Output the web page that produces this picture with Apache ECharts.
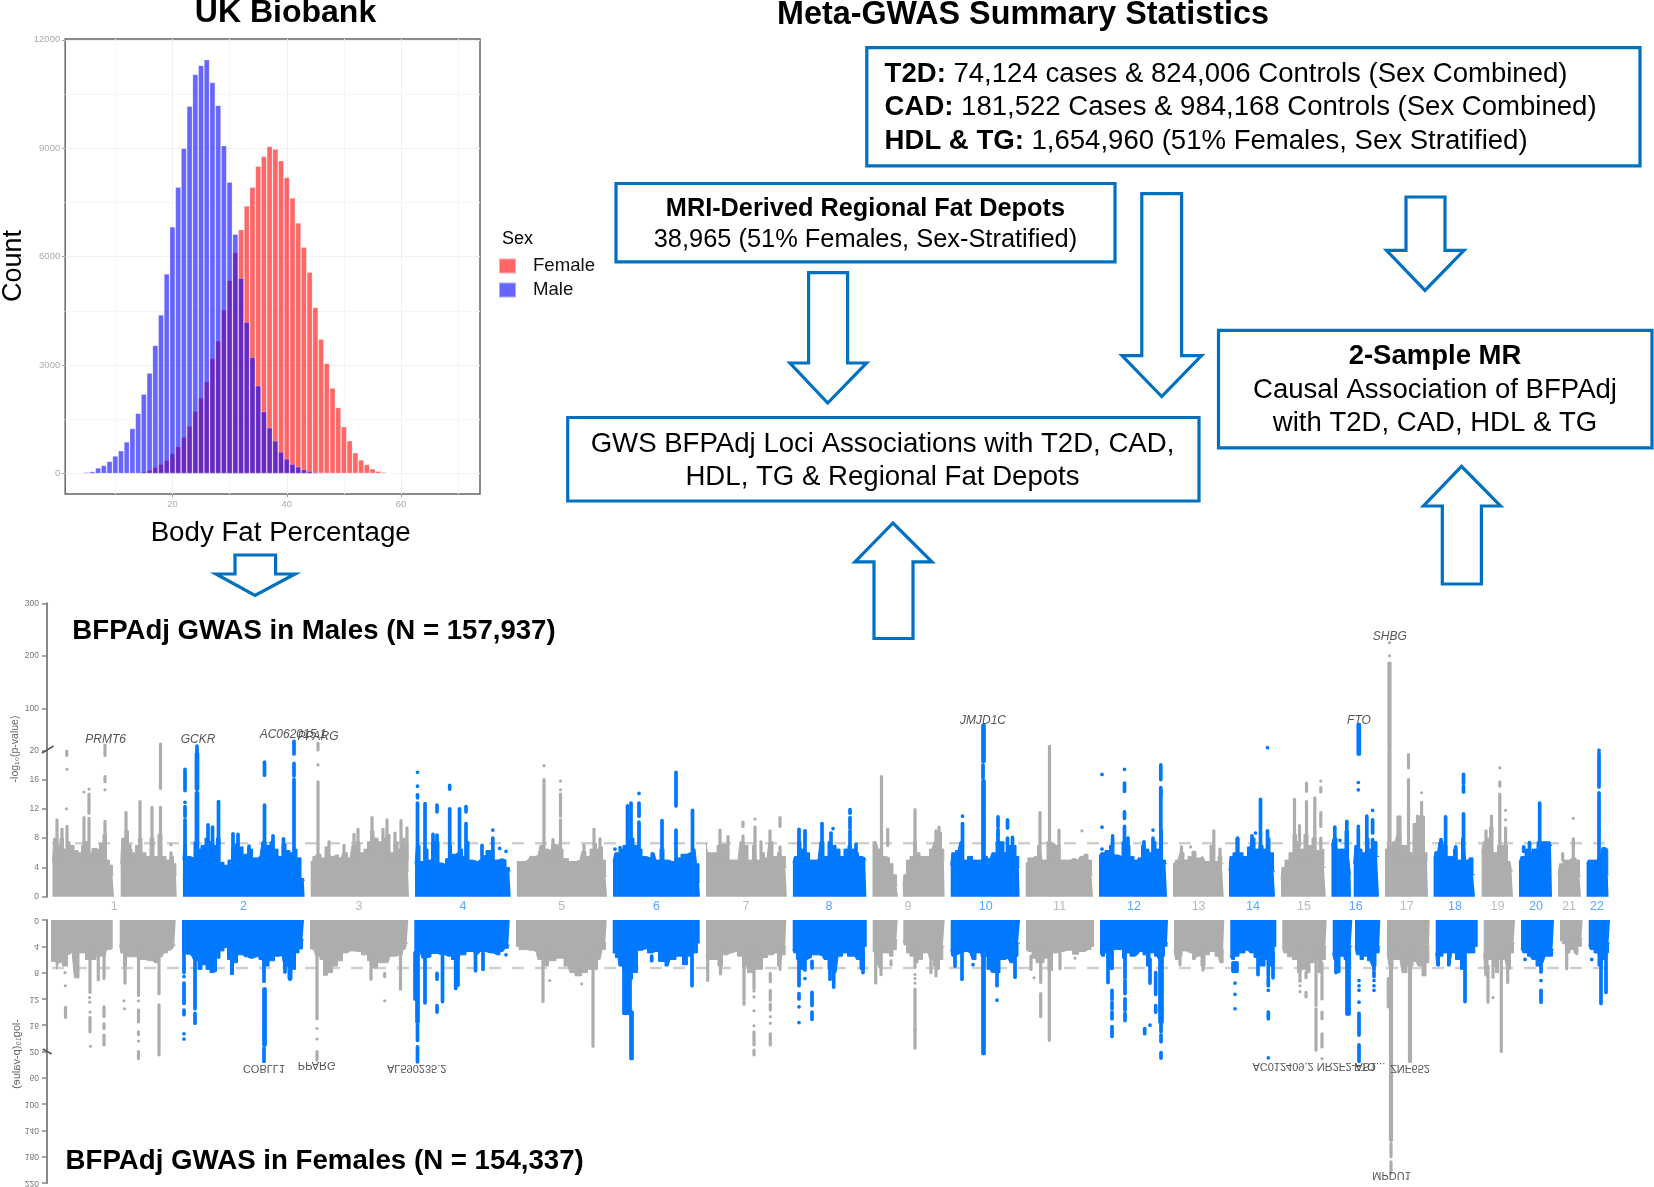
<!DOCTYPE html>
<html><head><meta charset="utf-8">
<script src="https://cdn.jsdelivr.net/npm/echarts@6/dist/echarts.min.js"></script>
<style>html,body{margin:0;padding:0;background:#fff}#c{width:1654px;height:1187px}</style>
</head><body><div id="c"></div>
<script>
// ---------- Histogram data ----------
const histBins = [5,6,7,8,9,10,11,12,13,14,15,16,17,18,19,20,21,22,23,24,25,26,27,28,29,30,31,32,33,34,35,36,37,38,39,40,41,42,43,44,45,46,47,48,49,50,51,52,53,54,55,56,57,58];
const histMale = [30,50,150,220,330,480,625,870,1240,1660,2190,2775,3540,4385,5520,6820,7920,8990,10160,11040,11290,11450,10815,10180,9070,8060,6620,5400,4185,3210,2425,1705,1260,900,590,400,255,180,105,60,30,15,0,0,0,0,0,0,0,0,0,0,0,0];
const histFemale = [0,0,0,0,0,0,0,0,5,15,50,90,170,250,360,550,740,1000,1310,1720,2090,2540,3180,3665,4520,5340,6110,6740,7400,7920,8500,8770,9045,8970,8650,8190,7620,6930,6260,5570,4590,3710,3040,2360,1820,1290,900,570,370,245,125,60,30,15];
const histXTicks = [20,40,60];
const histXMinor = [10,30,50,70];
const histYTicks = [0,3000,6000,9000,12000];
const histYMinor = [1500,4500,7500,10500];

// ---------- Manhattan shared ----------
const chromosomes = ['1','2','3','4','5','6','7','8','9','10','11','12','13','14','15','16','17','18','19','20','21','22'];
const chromosomeCenters = [114.3,243.6,359,463,561.8,656.4,746,829,908,985.7,1059.6,1134,1198.6,1253,1303.9,1355.8,1406.7,1455,1497.5,1536,1569,1597];
const maleTicks = [0,4,8,12,16,20,100,200,300];
const femaleTicks = [0,4,8,12,16,20,60,100,140,180,220];
const significanceLine = 7.3;

// solid body of each chromosome: [position, -log10 p]; null = gap in the track
const maleBody = [
 [[52.5,4.8],[55,8],[58,7],[62,8],[65,6.5],[68,7.5],[72,7],[76,6.3],[80,6],[83,7],[87,7.5],[90,6],[94,6.6],[98,6.4],[101,7.3],[105,8.5],[108,5],[111,4.3],[114,3],null,[120.7,4.4],[123,8],[127,9],[130,6.5],[134,6],[137,7],[140,8],[144,6],[148,5.5],[152,8],[156,5.5],[160,8.5],[164,5.5],[168,5],[172,5.5],[175,4.5],[176.8,3]],
 [[182.9,5],[185,7],[188,5.5],[192,5.3],[196,7.5],[199,6.5],[203,7],[207,8],[211,7.5],[215,7],[218,8],[222,4.7],[226,4.3],[230,5],[233,6.5],[237,7.2],[241,6.8],[245,5.8],[250,6.5],[255,5.3],[260,5.5],[264,7.5],[268,7],[272,7.5],[276,6.5],[280,5.5],[284,7.2],[288,6.3],[292,6],[295,6.5],[299,5.3],[303,2.5],[304.6,2.2]],
 [[310.7,4.8],[315,5.5],[319,5.8],[323,5.3],[327,6.8],[331,5.5],[336,5.7],[341,5.3],[345,6],[350,5.3],[354,7],[358,7.5],[362,6],[366,6.5],[369,7.5],[372,9],[376,8],[380,7.5],[384,8],[388,8.5],[392,6],[396,7.5],[400,6.5],[403,8],[407,7],[409,3.5]],
 [[415,4.4],[418,7],[422,4.8],[426,6.5],[430,5],[433,7.5],[437,7.5],[441,4.6],[444,4.4],[447,5.2],[450,7],[453,5.8],[458,6],[461,6.5],[464,5.5],[467,7.5],[471,5],[475,4.8],[480,5],[484,5.6],[488,6.3],[492,6.5],[496,5],[500,5.2],[504,5],[508,4],[510.7,3.5]],
 [[516.8,4.8],[522,4.8],[528,5],[532,5.5],[538,5.6],[542,7],[546,6.5],[550,6.3],[553,7.2],[557,7],[561,6.5],[565,5.2],[572,4.8],[580,5],[584,6.2],[588,5.5],[592,6.5],[595,7.3],[598,6.5],[601,6.8],[604,5],[607,2.8]],
 [[613,4.8],[617,6],[621,6.5],[625,7],[628,8],[632,8],[636,7],[640,6.5],[644,5.5],[648,5.3],[654,6],[658,5],[662,6.5],[666,5],[672,4.8],[678,5.3],[684,5.8],[690,6],[695,6.5],[698,4.5],[700,2]],
 [[706,7.3],[709,6],[714,6],[720,7],[724,7.2],[727,7],[731,5],[738,5],[742,7.5],[746,7],[750,5],[755,7],[758,5],[762,6],[767,5.3],[771,7.5],[775,5.5],[780,6],[784,5.5],[786.8,4]],
 [[792.9,4.6],[796,5.5],[799,7.5],[803,6.5],[807,6],[812,5],[818,5],[822,7.5],[826,5.5],[830,7.5],[834,7],[838,6.5],[842,5.5],[846,6.5],[850,7],[853,6.5],[857,6],[860,5.5],[864,5.3],[866.4,5]],
 [[872.5,7.5],[876,7.5],[880,6.5],[884,5.5],[888,5.3],[891,4.5],[895,3],[898,1.5],null,[902.9,1.5],[905,3],[908,5],[912,5.5],[915,7.5],[918,6],[922,5.5],[927,5.5],[932,6.5],[936,7.5],[940,8.8],[943,6.5],[944.6,5]],
 [[950.7,4.3],[953,6],[958,6.3],[962,7.5],[965,5],[970,5.5],[975,5],[980,5],[985,5.5],[990,5.2],[994,6],[998,7.5],[1002,7.5],[1006,6],[1010,7],[1014,7],[1018,5.5],[1019.6,4]],
 [[1025.7,4.6],[1030,5.3],[1035,5.5],[1040,7],[1044,5],[1050,7.5],[1054,7.3],[1058,7],[1062,5],[1068,5],[1073,5.2],[1078,5],[1082,5.5],[1086,5.8],[1090,5],[1093,3]],
 [[1099,5.5],[1103,6],[1107,6.3],[1112,7],[1116,5.7],[1120,5.5],[1124,7.5],[1128,7],[1132,5.5],[1136,5],[1140,5.3],[1143,7],[1147,6.5],[1151,6],[1154,7.5],[1158,6.5],[1161,9],[1164,5],[1167,4.5]],
 [[1173,4.6],[1178,5],[1182,6],[1186,5],[1190,5.5],[1194,6.2],[1198,5.3],[1203,5.5],[1207,4.8],[1213,7],[1216,4.8],[1220,5.5],[1223.7,4.5]],
 [[1229,3.5],[1231,5.5],[1235,6],[1237,8],[1241,6],[1245,5.5],[1250,6.8],[1253,8],[1257,6.5],[1261,7],[1265,6.5],[1268,8],[1272,6],[1275,3.5]],
 [[1281,2.2],[1283,4],[1287,5],[1291,6],[1295,8.5],[1298,7.5],[1302,6.5],[1306,8.5],[1310,7],[1314,8],[1318,6.3],[1322,6.5],[1325.8,4]],
 [[1331.4,7],[1335,8],[1339,6.5],[1343,6.5],[1347,9],[1350,5.5],[1351,3],null,[1353.7,4.5],[1356,7],[1360,6.5],[1364,6],[1367,8],[1371,6.5],[1375,7.5],[1379,5.5]],
 [[1385,6.5],[1390,7],[1395,7.5],[1399,8.5],[1403,7],[1407,7],[1411,6],[1415,10],[1419,11],[1423,11],[1426,6],[1428,5]],
 [[1433.6,5.5],[1437,5.5],[1441,7.5],[1445,7],[1449,5.5],[1452,5.5],[1455,6.5],[1459,5],[1464,8],[1467,5],[1471,5.3],[1475,3]],
 [[1481.6,6],[1485,7.5],[1488,8],[1491,9.5],[1495,6],[1500,7],[1505,7],[1510,4.8],[1513,3.5]],
 [[1519,4.6],[1523,5.5],[1527,6.5],[1530,6],[1534,6.5],[1540,7.5],[1545,7.5],[1550,7.5],[1552,7]],
 [[1558,3],[1561,4.5],[1565,5],[1570,5],[1574,5.3],[1578,5],[1581,2.8]],
 [[1586.6,4.5],[1590,5],[1595,5],[1600,5.3],[1604,6.7],[1607,6.5],[1608.5,3]]
];
// peaks above the body: [position, from, to] (or [position, value] for a lone point)
const maleSpikes = [
 [[57,5,10.5],[62,5,9.2],[67,6,9.6],[66.5,12],[67,17.4],[66.8,19.3,19.9],[84,5,10.8],[84,14.3],[89,5,10.7],[89,11.4,14],[89,14.7],[105,5,10.3],[105,14.6],[105,15.7,16.4],[105,19.3,30],[126,5,11.5],[130,5,7],[140,6,13],[152,5,12.2],[160.5,5,12.2],[160.5,14.8,19.5],[160.5,19.5,32],[171,5,6],[171,7.1]],
 [[185,5,10.5],[185,11,12.3],[185,12.9],[185,14.5,17.4],[196.5,5,14.2],[197.5,5,14.2],[196.5,14.7,19.5],[197.5,14.7,19.5],[197,19.5,28],[208,6,9.8],[212.5,6,9.5],[218.5,5,13],[233,5,8.6],[238,5,8.5],[249,5.5,6.9],[264.5,5,12.5],[264.5,16.6,18.4],[273,5,8.3],[283.5,5,7.9],[294,5,16],[294,16.5,18.2],[294,19.5,37]],
 [[318,5,15.7],[318,18],[318,20.5,33],[329,5.5,7.5],[344,6,7],[354,5,8.5],[358,6,9.2],[372,6.5,10.8],[383,7,9.2],[387,5,10.5],[395,5,8.7],[401,5,10.4],[407,5,9.4]],
 [[417.5,5,12.8],[417.5,13.5,13.9],[417.5,15.1],[417.5,17],[425,5,12.7],[433,5,8.5],[437,7,8.4],[437,11.6,12.5],[449.7,5,12],[449.7,14.7,15.2],[459.5,5,12],[466,5,10],[466,11.6,12.3],[482,5.5,7],[492.8,5,8],[492.8,9.1],[499.7,6.6],[506,6.2]],
 [[544,5,16],[544,17.9],[553,6,7.8],[560.5,5,9],[560.5,9.2,10.5],[560.5,11,14],[560.5,14.6],[560.5,15.8],[584,6,7],[594,5,9.2],[600,5,7.9]],
 [[615,6.5],[620,6.7],[627.5,5,12.4],[631,5,12.8],[639,5,10.2],[639,11,12.8],[639,14.1],[662,5,10.4],[676,5,9.1],[676,12.4,17],[692.5,5,11.8]],
 [[720,5,9.1],[728,5,8.2],[743,5,8.3],[743,9.6,10.2],[755,5,9.5],[755,10.6],[761,6,7.5],[770,5,9],[780,5,6.8],[780,9.6,10.8]],
 [[799,5,9.2],[805,5,9],[822,5,10],[831,5,8.7],[833,9.3],[850,5,9],[850,9.4,10.8],[850,11.4,11.9],[856,5,7.2]],
 [[881.5,5,16.4],[887.7,7,9.2],[915,5,11.9],[936,5,9],[939,5,9.5]],
 [[962.5,5,10],[962.5,11],[983,5,15.8],[983,16.2,18],[983,18.5,67],[984,5,15.8],[984,18.5,67],[998,5,8.6],[998,8.5,9.2],[998,9.6,10.9],[1007.5,5,8],[1007.5,9.4,10.5],[1012.5,5,8.1]],
 [[1040,5,11.5],[1049.5,5,17.8],[1049.5,18,19.8],[1049.5,20,27.6],[1059,5,9.1],[1082,9]],
 [[1102,16.7],[1102,9.5],[1102,6.5],[1112.6,5,8],[1112.6,8.3],[1124.5,5,9.6],[1124.5,10.7,11.6],[1124.5,14.4,15.5],[1124.5,17.4],[1128,5,8],[1144,5,7.5],[1153,5,8],[1153,9.1],[1160.8,5,14.5],[1160.8,13.9,14.9],[1160.8,16,18]],
 [[1181.5,5,6.8],[1190.7,6.8],[1213.8,5,9],[1220,5,6.5]],
 [[1237.5,5,8],[1252,6,8.3],[1255.5,8.7],[1260.5,5,9],[1260.5,9.2,13.3],[1267.5,5,9],[1267.5,25]],
 [[1294.5,5,10],[1294.5,10.2,13.3],[1299.5,7,9.7],[1306.5,5,13],[1306.5,14.4,15.5],[1314.8,5,9.5],[1314.8,9.6,13.5],[1320.8,6,8],[1320.8,9.6,11.5],[1320.8,14.3,14.9],[1320.8,15.8]],
 [[1334.8,5,9.5],[1346.8,5,10.3],[1340,7.7],[1358.3,5,9.2],[1358.3,9.6],[1358.3,14.6],[1358.3,15.6],[1358.3,19.5,68.7],[1359.3,19.5,68.7],[1366.8,5,11],[1372.6,5,7.8],[1372.6,8.7,10.5],[1372.6,11.8]],
 [[1389,5,19.7],[1390,5,19.7],[1389,20,186],[1390,20,186],[1389.5,200],[1389.5,225],[1398,5,10.9],[1400,5,10.9],[1408.5,5,12],[1408.5,11,16],[1408.5,17.6,19.4],[1417.5,5,11],[1421.6,5,12.9],[1421.6,14.2]],
 [[1436,5,6],[1441,5,7.8],[1445.6,5,10.9],[1455.7,5,6.8],[1463.5,5,11.3],[1463.5,14.3,15.1],[1463.5,15.5,16.7]],
 [[1486,6,9],[1491.5,6,11],[1499.8,5,14],[1499.8,15.1,15.7],[1499.8,17.6],[1505.6,5,9.4],[1505.6,10.5],[1505.6,11.8]],
 [[1523.7,6.2,6.8],[1529.5,5,7.4],[1539.7,5,12.8]],
 [[1562.7,5,5.9],[1573.3,5,7.9],[1573.3,10.7]],
 [[1599,5,9],[1599,9,14.2],[1599,15,19.6],[1599,20]]
];
const femaleBody = [
 [[51,6.3],[56,6.3],[57,7.5],[60,6.5],[65,7],[70,5.2],[74,4.8],[75,8.8],[83,5],[88,6],[93,6],[99,5.5],[105,5.5],[108,4.5],[112.7,4.3],null,[119.7,3.8],[122,5],[125,7],[128,5.6],[135,5.6],[140,6],[150,6.2],[155,6.5],[162,5.6],[165,5],[170,4.6],[173,4.3],[175.7,3.8]],
 [[182,5],[187,5.2],[192,5.5],[196,6.2],[200,7.5],[204,6.8],[208,7.5],[212,8],[215,7.8],[218,5.8],[222,4.7],[226,4.2],[229,6],[232,8.3],[235,6.5],[240,5.3],[245,5.6],[250,5.8],[256,5.6],[262,6],[266,7],[272,6.2],[277,5.5],[282,5.4],[286,7],[290,9],[294,7.5],[297,5],[301,4.4],[304,3]],
 [[310,4.3],[314,4.6],[318,5.5],[322,6],[325,8.4],[330,8],[335,7],[340,6.2],[345,5],[350,4.7],[358,4.8],[365,5.3],[370,6.2],[375,7.3],[380,6.5],[388,6.5],[392,5.5],[400,5.2],[405,4.5],[408.3,3.5]],
 [[414.3,4.8],[420,4.8],[424,5.8],[427,5.6],[435,5.1],[440,5.2],[448,5.5],[455,6],[458,6],[462,5.3],[470,4.8],[478,5.2],[482,4.8],[490,5],[497,5.3],[503,4.8],[507,4.3],[509.7,3.8]],
 [[516,4],[522,4.5],[530,4.6],[536,4.8],[540,6],[545,7],[552,6.2],[560,5.8],[568,7],[572,8],[578,8.5],[585,8],[590,7.5],[595,7.5],[600,6],[604,4.5],[606.7,3.5]],
 [[612.7,5],[618,5.7],[620,7],[625,7.5],[630,9],[635,8],[640,4.6],[645,4.4],[650,5],[655,4.8],[662,6.3],[668,7],[672,6],[680,5.5],[685,6.8],[690,5.5],[695,5],[699.7,3.5]],
 [[706,5.3],[708,6],[712,6],[716,6],[720,7],[725,5.3],[730,5],[735,4.8],[740,5.5],[745,7],[750,8],[755,7.5],[760,7.5],[765,5.7],[770,5.3],[775,5],[780,7],[784,5.3],[786.3,4]],
 [[792.7,4.5],[795,5],[798,6],[802,7.5],[806,6],[808,5.7],[815,5.3],[822,5.4],[826,6],[830,7.5],[836,8],[840,5.5],[845,5],[850,5.5],[855,5.5],[858,6],[862,7.5],[866.7,4]],
 [[872.7,4.8],[876,5],[878,6.5],[880,7.3],[884,5],[888,5],[891,5.5],[895,4.5],[897.7,3],null,[903.3,3],[905,3.8],[908,5],[912,5.5],[916,6.5],[920,6],[925,5],[928,5],[932,6],[935,7],[938,7.5],[941,6],[944.7,4]],
 [[950.7,4.5],[953,5.5],[956,5.2],[960,5],[965,4.8],[970,5],[974,6],[978,5],[984,5.5],[990,7.5],[993,8],[997,8],[1003,6],[1008,5.8],[1012,6.5],[1016,5.5],[1020,3.5]],
 [[1026,4.4],[1030,4.8],[1034,5.8],[1038,6.5],[1042,6.5],[1046,5.8],[1050,7.7],[1055,5],[1060,4.8],[1067,4.6],[1070,4.6],[1075,5.2],[1082,4.8],[1088,4.5],[1094,4]],
 [[1100,4.8],[1103,5.5],[1106,5],[1108,7],[1110,7.5],[1116.7,4.5],[1120,4.5],[1125,5.8],[1128,5],[1132,5.5],[1138,5.2],[1141,4.8],[1145,5.3],[1148,7],[1152,5],[1157,5.5],[1160,6],[1163,5.5],[1166,4],[1168,3.5]],
 [[1174,4.5],[1177,6],[1180,5.5],[1184,4.7],[1190,5],[1195,6],[1199,5.5],[1203,7],[1207,5.3],[1212,4.8],[1218,5.5],[1222,6.5],[1224.3,4.5]],
 [[1230.3,5.5],[1233,6],[1236,5.5],[1242,5],[1248,4.6],[1252,5],[1256,5.7],[1260,7],[1263,7],[1267,6],[1272,7],[1276.3,4]],
 [[1282.3,4],[1285,5],[1290,5.6],[1295,6],[1300,8],[1304,7.5],[1308,8],[1312,6.5],[1316,6],[1320,8],[1324,6],[1326.7,4]],
 [[1332.7,5],[1335,6],[1338,8],[1342,5.5],[1346,6],[1349,7],[1352.3,4],null,[1355,4],[1358,5.3],[1362,6],[1365,5.5],[1370,6.2],[1374,7],[1378,5],[1380.3,4]],
 [[1387,5],[1391,7],[1395,6],[1400,6],[1404,8],[1410,7],[1416,6.3],[1420,7],[1424,8.5],[1428,6.5],[1429.7,4]],
 [[1435.7,5],[1438,7],[1441,5.5],[1445,5],[1450,7],[1453,5],[1458,6],[1463,7.5],[1468,5],[1472,5],[1477.7,4]],
 [[1483.7,5],[1486,8.5],[1490,6],[1494,7],[1497,8],[1500,6],[1505,6],[1509,7.5],[1512,5],[1515,3.5]],
 [[1521,4.3],[1525,5],[1530,5.5],[1534,6],[1538,7],[1543,6.5],[1547,5.5],[1551,5.5],[1554,4.5]],
 [[1560,3.2],[1565,3.6],[1568,5],[1572,4.5],[1576,5],[1580,4],[1582.7,2.8]],
 [[1588.7,3.8],[1592,4.5],[1596,5],[1600,7],[1604,6],[1607,5],[1610,3.5]]
];
const femaleSpikes = [
 [[65,8],[65.3,10],[65.5,13.3,14.8],[90,5,11],[89.5,11.8],[89.7,12.5],[90,14],[90,14.8,17],[90.5,19.2],[98.3,5,9.1],[104,5,8.9],[104,13.2,14.7],[104,15.8,16.5],[104,17.5,19],[125,5,9.6],[124,12.3],[124.5,13.5],[138.5,5,11.5],[138.5,12.3],[138.5,13.7,15.5],[138.5,17,17.4],[138.5,18.4],[138.5,20,30.7],[159,5,11.2],[159,12.9,25]],
 [[184,5,8],[184,8.6],[184,9.6,12.7],[184,13.7,14.4],[184,17.3],[184,18.1],[195,5,13.5],[195,14.2,15.7],[264,5,9.3],[264,10.5,17],[264,17,19],[264,19.5,35],[265,10.5,19],[285,5,7.9],[290,5,9]],
 [[317,5,10.5],[317,10.7,15],[317,16.5],[317,18.1],[317,20,33],[371,6,9],[384.7,8.1,8.6],[384.7,12.3],[400.5,5,10.5]],
 [[415,5,12],[417,5,15.5],[418,5,15.5],[417.5,16,18.3],[417.5,19.3,35.7],[425,5,12.6],[437,8.1,9],[437,13,14],[442.5,5,12.4],[455.7,5,10.4],[458,5,9.9],[475.5,5,7.7],[483,5,7.5],[506,5.3]],
 [[543,5,12.4],[549.7,9.2],[581.7,9.7],[593,5,19.2]],
 [[624,5,14.2],[626,5,14.2],[628,5,14.2],[630,5,14.2],[631,14,30.5],[632,14,30.5],[651.7,5.5,6.2],[692,5,10]],
 [[707.7,5,9.2],[720.5,5,8.2],[744,5,12.8],[754,5,10.4],[754,10.8],[754,11.7],[754,13.8],[754,16.1],[754,17,19],[754,19.8,25],[770.3,8.1,9.4],[770.3,10.7,12.2],[770.3,12.8,13.7],[770.3,14.7],[770.3,15.7],[770.3,17.3,19],[780,5,7.5]],
 [[799,5,10],[799,11.2,12],[799,13.2],[799,15.6],[805,5,7.6],[805,8.9],[812,6.3,7.3],[812,11,13],[812,14,15.1],[830,5,9],[833.7,5,10.2],[863,5,8]],
 [[875.7,5,9.6],[881,5,8.3],[891,6.2,6.8],[915,5,7.2],[915,8.3],[915,8.9],[915,9.6],[915,10.5,16.8],[915,16.5,19.5],[931,6,8],[936,5,8.5]],
 [[955,5,7],[962,5,9],[973,5.5],[973,6.8],[983,5,23],[984,5,23],[997,5,9],[997,9.3,10],[997,12.2],[1015,5,8.7]],
 [[1031,5.5,7.5],[1034,8.8],[1040.7,5,9.5],[1040.7,11.2,14.7],[1049.3,5,18.3],[1060,5,7.4],[1075,5.8]],
 [[1108,5,9.5],[1112,10.7,12],[1112,12.5,13.5],[1112,14,15],[1112,16.2,17.7],[1125,5,8.8],[1125,9.2,11.2],[1125,12,13.7],[1125,14.2,15.3],[1144.7,16.5,17.3],[1150,16],[1150,6,9.6],[1155.7,8,11.3],[1155.7,13,14],[1160,5,15.5],[1162,5,15.5],[1161,15.2,17],[1161,17.5,18.5],[1161,21.5,30]],
 [[1180,5,6.8],[1203,5,7.6]],
 [[1233,6.5,7.8],[1235,6.5,7.8],[1237,6.5,7.8],[1235,9.6],[1235,11.3],[1235,13.5],[1258,5,8.3],[1268.3,5,8.5],[1268.3,8.9,10],[1268.3,10.7],[1268.3,14,15],[1268.3,29.6],[1273,5,8.8]],
 [[1300,5,9.3],[1300,9.2],[1300,10],[1300,10.9],[1306,8,8.8],[1306,11,11.7],[1316,5,13],[1316,13.5,19.8],[1322,6.6,12],[1322,14,15],[1322,17.3,19.3],[1322,30.7]],
 [[1336,5,8],[1347,5,14.3],[1349,5,14.3],[1359,9.2],[1359,10],[1359,10.7],[1359,12.5],[1359,14.2,17.5],[1359,19,35],[1374,5,7.5],[1374,7.9,8.6],[1374,9.2],[1374,10],[1374,10.7]],
 [[1388.3,8.9,13.2],[1390.5,5,155],[1391.5,5,155],[1391,160,180],[1391,188,205],[1409.5,5,35],[1410.5,5,35]],
 [[1465,5,12.4]],
 [[1488,7,12.5],[1493,7,8.7],[1493,11.8],[1501.3,5,20],[1507.7,5,9.5]],
 [[1525,6],[1541,5,7.7],[1541,7.9],[1541,9.2],[1541,10.7,12.5]],
 [[1566.7,3.5,7.4],[1576.7,5.1]],
 [[1591.7,6],[1601,5,12.7],[1606,5,11]]
];
const maleGenes = ['PRMT6','GCKR','AC062015.1','PPARG','JMJD1C','FTO','SHBG'];
const maleGenePos = [[105.7,41],[198,41],[293,49],[318,45],[983,76],[1359,77],[1389.8,237]];
const femaleGenes = ['COBLL1','PPARG','AL590235.2','AC012409.2','NR2F2-AS1...','FTO','ZNF652','MPDU1'];
const femaleGenePos = [[264,45],[316.7,41],[416.7,45],[1283,42],[1351,42],[1365,42],[1410,45.5],[1391.6,208]];

// ---------- broken y scales ----------
const maleScale = v => v <= 20 ? v : 20 + (v - 20) * 0.0717;
const maleUnscale = s => s <= 20 ? s : 20 + (s - 20) / 0.0717;
const femaleScale = v => v <= 20 ? v : 20 + (v - 20) * 0.1;

const GREY = '#ADADAD', BLUE = '#0078FF', BOX = '#0070C0';
const FONT = '"Liberation Sans", Arial, sans-serif';

function splitParts(flat){
  const out=[[]];
  flat.forEach(p=>{ if(p===null) out.push([]); else out[out.length-1].push(p); });
  return out;
}
function spikeSeries(data, color, gridIdx, scale, w){
  return {
    type:'custom', xAxisIndex:gridIdx, yAxisIndex:gridIdx, silent:true, clip:false, z:3,
    data:data.map(d=>d.length===2?[d[0],d[1],d[1]]:d),
    encode:{x:0,y:1},
    renderItem(params, api){
      const a=api.coord([api.value(0),scale(api.value(1))]);
      const b=api.coord([api.value(0),scale(api.value(2))]);
      const top=Math.min(a[1],b[1]), h=Math.abs(a[1]-b[1]);
      return {type:'rect',shape:{x:a[0]-w/2,y:top-w/2,width:w,height:h+w,r:w/2},style:{fill:color}};
    }
  };
}
function manhattan(body, spikes, gridIdx, scale){
  const s=[];
  chromosomes.forEach((name,i)=>{
    const color = i%2===0 ? GREY : BLUE;
    splitParts(body[i]).forEach(part=>{
      s.push({type:'line',xAxisIndex:gridIdx,yAxisIndex:gridIdx,data:part,step:'middle',symbol:'none',silent:true,z:3,
        lineStyle:{width:1,color},areaStyle:{color,opacity:1}});
    });
    s.push(spikeSeries(spikes[i],color,gridIdx,scale,i%2===0?3.2:3.7));
  });
  return s;
}
function thresholdSeries(gridIdx){
  return {type:'line',xAxisIndex:gridIdx,yAxisIndex:gridIdx,silent:true,symbol:'none',z:2,
    data:[[52,significanceLine],[1610,significanceLine]],
    lineStyle:{color:'#CFCFCF',width:2.5,type:[12,11]}};
}
function geneSeries(names, pos, gridIdx, scale, flip){
  return {type:'custom',xAxisIndex:gridIdx,yAxisIndex:gridIdx,silent:true,clip:false,z:5,
    data:pos.map((p,i)=>[p[0],p[1],i]),encode:{x:0,y:1},
    renderItem(params,api){
      const c=api.coord([api.value(0),scale(api.value(1))]);
      return {type:'text',x:c[0],y:c[1],scaleY:flip?-1:1,
        style:{text:names[api.value(2)],align:'center',verticalAlign:'middle',fill:'#555',
          font:(flip?'11':'italic 12')+'px '+FONT}};
    }};
}
function flippedTickSeries(){
  return {type:'custom',xAxisIndex:2,yAxisIndex:2,silent:true,clip:false,z:5,
    data:femaleTicks.map(v=>[47,v]),encode:{x:0,y:1},
    renderItem(params,api){
      const c=api.coord([47,femaleScale(api.value(1))]);
      return {type:'text',x:c[0]-8,y:c[1],scaleY:-1,
        style:{text:String(api.value(1)),align:'right',verticalAlign:'middle',fill:'#777',font:'8.5px '+FONT}};
    }};
}

const histMarks = {silent:true,symbol:'none',animation:false,label:{show:false},
  lineStyle:{color:'#F6F6F6',width:1,type:'solid'},
  data:[...histXMinor.map(v=>({xAxis:v})),...histYMinor.map(v=>({yAxis:v}))]};

const series = [
  {type:'line',xAxisIndex:0,yAxisIndex:0,data:[],silent:true,z:1,markLine:Object.assign({z:1},histMarks)},
  {name:'Female',type:'bar',xAxisIndex:0,yAxisIndex:0,z:3,data:histBins.map((b,i)=>[b,histFemale[i]]),
   barWidth:5.4,barGap:'-100%',itemStyle:{color:'rgba(255,0,0,0.6)',borderColor:'rgba(255,255,255,0.45)',borderWidth:0.5}},
  {name:'Male',type:'bar',xAxisIndex:0,yAxisIndex:0,z:3,data:histBins.map((b,i)=>[b,histMale[i]]),
   barWidth:5.4,barGap:'-100%',itemStyle:{color:'rgba(0,0,255,0.6)',borderColor:'rgba(255,255,255,0.45)',borderWidth:0.5}},
  thresholdSeries(1), thresholdSeries(2),
  ...manhattan(maleBody,maleSpikes,1,maleScale),
  ...manhattan(femaleBody,femaleSpikes,2,femaleScale),
  geneSeries(maleGenes,maleGenePos,1,maleScale,false),
  geneSeries(femaleGenes,femaleGenePos,2,femaleScale,true),
  flippedTickSeries()
];

// ---------- diagram shapes ----------
function box(x0,y0,x1,y1){
  return {type:'rect',z:1,shape:{x:x0,y:y0,width:x1-x0,height:y1-y0},style:{fill:'#fff',stroke:BOX,lineWidth:3.2}};
}
function arrow(pts){
  return {type:'polygon',z:1,shape:{points:pts},style:{fill:'#fff',stroke:BOX,lineWidth:3.2,lineJoin:'miter'}};
}
function shaftArrow(l,r,end,sh,wl,wr,tx,ty){ return arrow([[l,end],[r,end],[r,sh],[wr,sh],[tx,ty],[wl,sh],[l,sh]]); }
function txt(text,x,y,size,opt){
  opt=opt||{};
  return {type:'text',z:2,x,y,rotation:opt.rotation||0,
    style:{text,align:opt.align||'center',verticalAlign:'middle',fill:opt.fill||'#000',
      font:(opt.bold?'bold ':'')+size+'px '+FONT,rich:opt.rich}};
}
const richBold = s => ({b:{font:'bold '+s+'px '+FONT,fill:'#000'},n:{font:s+'px '+FONT,fill:'#000'}});

const graphic = [
  box(866.8,47.6,1640,165.8), box(616,183.5,1115,261.8), box(567.7,417.5,1199,501), box(1218.5,330.4,1652,447.8),
  shaftArrow(808.6,847.6,272.7,363,790,866.5,827.7,403),
  shaftArrow(1141.8,1181.6,193.6,355.6,1122,1201.5,1161.7,396.5),
  shaftArrow(1406,1445,197,250.4,1386.5,1464,1425,290.4),
  shaftArrow(874,913,638.5,561.9,855,932,893,523),
  shaftArrow(1442.3,1481.4,584,506,1423.5,1500.5,1461.5,466.3),
  shaftArrow(235,275.6,555,574,216,295,255,595.5),
  txt('UK Biobank',285.5,13,32,{bold:true}),
  txt('Meta-GWAS Summary Statistics',1023,15,32.3,{bold:true}),
  txt('Count',14,266,27,{rotation:Math.PI/2}),
  txt('Body Fat Percentage',280.7,533,27.7),
  txt('Sex',502,239,18,{align:'left'}),
  txt('{b|T2D:} {n|74,124 cases & 824,006 Controls (Sex Combined)}',884.6,74.4,27.55,{align:'left',rich:richBold(27.55)}),
  txt('{b|CAD:} {n|181,522 Cases & 984,168 Controls (Sex Combined)}',884.6,107.6,27.55,{align:'left',rich:richBold(27.55)}),
  txt('{b|HDL & TG:} {n|1,654,960 (51% Females, Sex Stratified)}',884.6,141,27.55,{align:'left',rich:richBold(27.55)}),
  txt('MRI-Derived Regional Fat Depots',865.4,209,25.3,{bold:true}),
  txt('38,965 (51% Females, Sex-Stratified)',865.4,240,25.4),
  txt('GWS BFPAdj Loci Associations with T2D, CAD,',882.5,444.5,27.6),
  txt('HDL, TG & Regional Fat Depots',882.5,477,27.6),
  txt('2-Sample MR',1435,356.5,27.5,{bold:true}),
  txt('Causal Association of BFPAdj',1435,390,27.55),
  txt('with T2D, CAD, HDL & TG',1435,423,27.55),
  txt('BFPAdj GWAS in Males (N = 157,937)',314,631,27.6,{bold:true}),
  txt('BFPAdj GWAS in Females (N = 154,337)',324.7,1161,27.66,{bold:true}),
  {type:'text',z:2,x:15,y:749,rotation:Math.PI/2,style:{text:'-log\u2081\u2080(p-value)',align:'center',verticalAlign:'middle',fill:'#666',font:'10.5px '+FONT}},
  {type:'group',z:2,x:17,y:1054,scaleY:-1,children:[
    {type:'text',rotation:Math.PI/2,style:{text:'-log\u2081\u2080(p-value)',align:'center',verticalAlign:'middle',fill:'#666',font:'11px '+FONT}}
  ]},
  {type:'line',z:6,shape:{x1:42,y1:753,x2:53.6,y2:746},style:{stroke:'#555',lineWidth:1.6}},
  {type:'line',z:6,shape:{x1:42.7,y1:1049,x2:51.7,y2:1054},style:{stroke:'#555',lineWidth:1.6}}
];

const chart = echarts.init(document.getElementById('c'),null,{renderer:'canvas'});
chart.setOption({
  animation:false,
  backgroundColor:'#fff',
  textStyle:{fontFamily:FONT},
  graphic,
  legend:{data:['Female','Male'],orient:'vertical',left:493,top:251.5,itemWidth:17,itemHeight:15,itemGap:5,icon:'rect',
    selectedMode:false,textStyle:{fontSize:18.6,color:'#111',padding:[0,0,0,12],fontFamily:FONT}},
  grid:[
    {left:65.2,top:39,width:414.8,height:455,show:true,borderColor:'#666',borderWidth:1.5,backgroundColor:'#fff',containLabel:false},
    {left:47,top:603.3,width:1600,height:293.4,containLabel:false},
    {left:47,top:920,width:1600,height:263,containLabel:false}
  ],
  xAxis:[
    {type:'value',gridIndex:0,min:1.24,max:73.8,axisLine:{show:false,onZero:false},
     axisTick:{customValues:histXTicks,length:3,lineStyle:{color:'#999'}},
     axisLabel:{customValues:histXTicks,color:'#AAA',fontSize:9.5,margin:5,formatter:v=>String(v)},
     splitLine:{show:true,lineStyle:{color:'#F0F0F0',width:1}}},
    {type:'value',gridIndex:1,min:47,max:1647,axisLine:{show:false,onZero:false},axisTick:{show:false},splitLine:{show:false},
     axisLabel:{customValues:chromosomeCenters,margin:3,hideOverlap:false,
       formatter:v=>{const i=chromosomeCenters.indexOf(v);return (i%2===0?'{g|':'{b|')+chromosomes[i]+'}';},
       rich:{g:{color:'#BBB',fontSize:12.5},b:{color:'#5AA5FF',fontSize:12.5}}}},
    {type:'value',gridIndex:2,min:47,max:1647,position:'top',axisLine:{show:false,onZero:false},axisTick:{show:false},axisLabel:{show:false},splitLine:{show:false}}
  ],
  yAxis:[
    {type:'value',gridIndex:0,min:-570,max:12022,axisLine:{show:false,onZero:false},
     axisTick:{customValues:histYTicks,length:3,lineStyle:{color:'#999'}},
     axisLabel:{customValues:histYTicks,color:'#AAA',fontSize:9.5,margin:5,formatter:v=>String(v)},
     splitLine:{show:true,lineStyle:{color:'#F0F0F0',width:1}}},
    {type:'value',gridIndex:1,min:0,max:maleScale(300),
     axisLine:{show:true,onZero:false,lineStyle:{color:'#888',width:2}},
     axisTick:{show:true,customValues:maleTicks.map(maleScale),length:5,lineStyle:{color:'#888',width:1.5}},
     axisLabel:{customValues:maleTicks.map(maleScale),color:'#777',fontSize:8.5,margin:8,hideOverlap:false,
       formatter:v=>String(Math.round(maleUnscale(v)))},
     splitLine:{show:false}},
    {type:'value',gridIndex:2,min:0,max:femaleScale(220),inverse:true,
     axisLine:{show:true,onZero:false,lineStyle:{color:'#888',width:2}},
     axisTick:{show:true,customValues:femaleTicks.map(femaleScale),length:5,lineStyle:{color:'#888',width:1.5}},
     axisLabel:{show:false},
     splitLine:{show:false}}
  ],
  series
});
</script></body></html>
